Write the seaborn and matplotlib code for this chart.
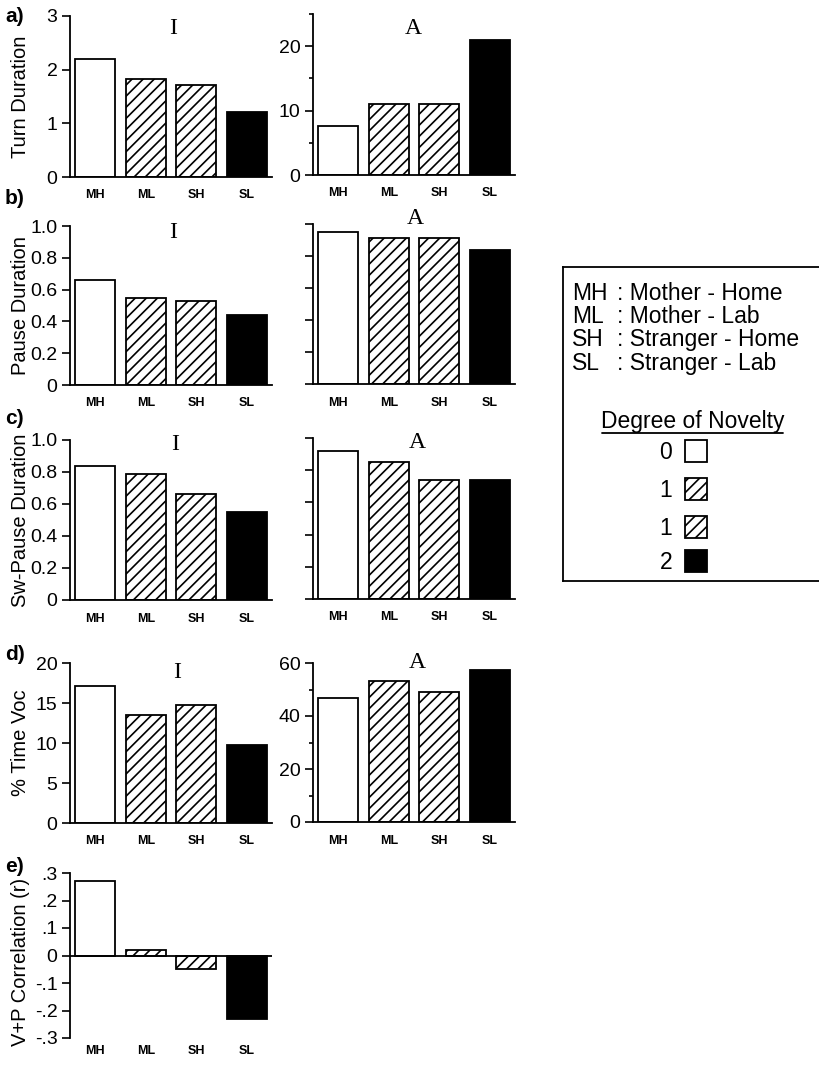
import matplotlib
matplotlib.use("Agg")
import matplotlib.pyplot as plt
from matplotlib.patches import Rectangle
import seaborn as sns

# conditions and per-panel values (I = infant, A = adult)
cats = ["MH", "ML", "SH", "SL"]
turn_I = [2.2, 1.82, 1.72, 1.22]
turn_A = [7.6, 11.1, 11.1, 21.0]
pause_I = [0.66, 0.55, 0.53, 0.44]
pause_A = [0.95, 0.91, 0.91, 0.84]
swpause_I = [0.84, 0.79, 0.66, 0.55]
swpause_A = [0.92, 0.85, 0.74, 0.74]
voc_I = [17.1, 13.5, 14.8, 9.7]
voc_A = [46.8, 53.3, 49.2, 57.4]
corr = [0.27, 0.02, -0.05, -0.23]

legend_names = ["Mother - Home", "Mother - Lab", "Stranger - Home", "Stranger - Lab"]
novelty = ["0", "1", "1", "2"]

fills = ["white", "white", "white", "black"]
hatches = ["", "///", "///", ""]

sns.set_style("ticks")
plt.rcParams["font.family"] = ["Liberation Sans", "DejaVu Sans"]
plt.rcParams["hatch.linewidth"] = 1.2
for k in ["text.color", "axes.labelcolor", "xtick.color", "ytick.color", "axes.edgecolor"]:
    plt.rcParams[k] = "black"

W, H = 820, 1069
fig = plt.figure(figsize=(W / 100, H / 100), dpi=100)


def rect(x0, y0, x1, y1):
    return [x0 / W, 1 - y1 / H, (x1 - x0) / W, (y1 - y0) / H]


def panel(box, vals, ylim, ticks, labels=None, minor=None, ylabel=None, xpad=9):
    ax = fig.add_axes(rect(*box))
    sns.barplot(x=cats, y=vals, hue=cats, palette=fills, legend=False,
                edgecolor="black", linewidth=1.3, width=0.8, errorbar=None, ax=ax)
    for p, h in zip(ax.patches, hatches):
        p.set_hatch(h)
    sns.despine(ax=ax)
    for s in ["left", "bottom"]:
        ax.spines[s].set_linewidth(1.3)
    ax.set_xlim(-0.5, 3.5)
    ax.set_ylim(*ylim)
    ax.set_yticks(ticks)
    if labels is None:
        ax.set_yticklabels([])
    else:
        ax.set_yticklabels(labels)
    if minor is not None:
        ax.set_yticks(minor, minor=True)
    ax.tick_params(axis="y", which="major", direction="out", length=6, width=1.2,
                   labelsize=14, pad=3)
    ax.tick_params(axis="y", which="minor", direction="out", length=3, width=1.2)
    ax.tick_params(axis="x", length=0, labelsize=9, pad=xpad)
    for t in ax.get_xticklabels():
        t.set_fontweight("bold")
    ax.set_xlabel("")
    if ylabel:
        ax.set_ylabel(ylabel, fontsize=14.5)
        ax.yaxis.label.set_verticalalignment("center")
        ax.yaxis.set_label_coords((21 - box[0]) / (box[2] - box[0]), 0.5)
    else:
        ax.set_ylabel("")
    return ax


L = (70, 272)
R = (313, 515)

# a) turn duration
panel((L[0], 16, L[1], 177), turn_I, (0, 3), [0, 1, 2, 3], ["0", "1", "2", "3"], ylabel="Turn Duration")
panel((R[0], 14, R[1], 175), turn_A, (0, 25), [0, 10, 20], ["0", "10", "20"], minor=[5, 15, 25])

# b) pause duration
pt = [0, 0.2, 0.4, 0.6, 0.8, 1.0]
panel((L[0], 226, L[1], 385), pause_I, (0, 1), pt, ["0", "0.2", "0.4", "0.6", "0.8", "1.0"], ylabel="Pause Duration")
panel((R[0], 224, R[1], 384), pause_A, (0, 1), pt)

# c) switching pause duration
panel((L[0], 440, L[1], 600), swpause_I, (0, 1), pt, ["0", "0.2", "0.4", "0.6", "0.8", "1.0"], ylabel="Sw-Pause Duration")
panel((R[0], 438, R[1], 599), swpause_A, (0, 1), pt)

# d) % time vocalizing
panel((L[0], 663, L[1], 823), voc_I, (0, 20), [0, 5, 10, 15, 20], ["0", "5", "10", "15", "20"], ylabel="% Time Voc")
panel((R[0], 663, R[1], 822), voc_A, (0, 60), [0, 20, 40, 60], ["0", "20", "40", "60"], minor=[10, 30, 50])

# e) correlation
ax_e = panel((L[0], 873, L[1], 1038), corr, (-0.3, 0.3), [-0.3, -0.2, -0.1, 0, 0.1, 0.2, 0.3],
             ["-.3", "-.2", "-.1", "0", ".1", ".2", ".3"], ylabel="V+P Correlation (r)", xpad=5)
ax_e.spines["bottom"].set_visible(False)
ax_e.axhline(0, color="black", lw=1.3)
ax_e.yaxis.label.set_y(0.46)

# panel letters
for lab, y in zip(["a)", "b)", "c)", "d)", "e)"], [17, 198, 418, 655, 866]):
    fig.text(5 / W, 1 - y / H, lab, fontsize=15, fontweight="bold", va="center", ha="left")

# I / A titles
for x, y in [(173, 28), (173, 232), (175, 445), (177, 672)]:
    fig.text(x / W, 1 - y / H, "I", fontsize=17, family="Liberation Serif", ha="center", va="center")
for x, y in [(413, 28), (415, 219), (417, 442), (417, 663)]:
    fig.text(x / W, 1 - y / H, "A", fontsize=17, family="Liberation Serif", ha="center", va="center")

# key box (right edge runs off the page)
leg = fig.add_axes(rect(563, 267, 830, 581))
leg.set_xlim(563, 830)
leg.set_ylim(581, 267)
leg.set_xticks([])
leg.set_yticks([])
for s in leg.spines.values():
    s.set_visible(True)
    s.set_linewidth(1.3)
leg.spines["right"].set_visible(False)
for c, name, y in zip(cats, legend_names, [292, 315, 338, 362]):
    leg.text(572, y + 8, c, fontsize=16.5, va="baseline", ha="left")
    leg.text(617, y + 8, ": " + name, fontsize=16.5, va="baseline", ha="left")
leg.text(693, 428, "Degree of Novelty", fontsize=16.5, va="baseline", ha="center")
leg.plot([602, 783], [433, 433], color="black", lw=1.3)
for n, f, h, y in zip(novelty, fills, hatches, [451, 489, 527, 561]):
    leg.text(666, y + 8, n, fontsize=16.5, va="baseline", ha="center")
    leg.add_patch(Rectangle((685, y - 11), 22, 22, facecolor=f, edgecolor="black", hatch=h, lw=1.3))

fig.savefig("out.png", dpi=100)
